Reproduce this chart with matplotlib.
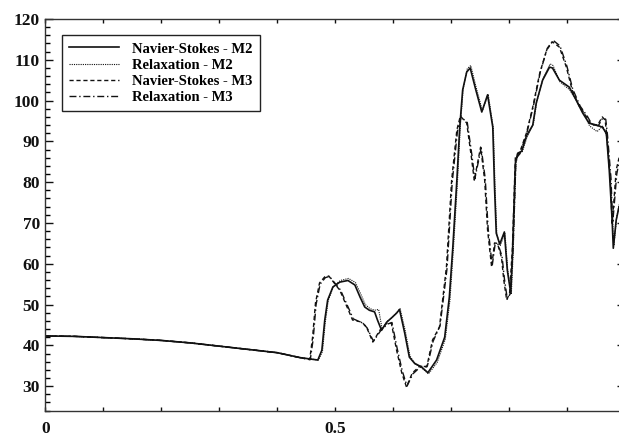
import matplotlib
matplotlib.use("Agg")
import matplotlib.pyplot as plt
from matplotlib.ticker import MultipleLocator, FuncFormatter

# Navier-Stokes, mesh M2 (solid)
ns_m2_x = [0.0, 0.05, 0.1, 0.15, 0.2, 0.25, 0.3, 0.35, 0.4, 0.439, 0.470, 0.477, 0.482, 0.487,
           0.496, 0.508, 0.522, 0.534, 0.543, 0.551, 0.559, 0.568, 0.573, 0.580, 0.589, 0.597,
           0.606, 0.611, 0.620, 0.628, 0.637, 0.649, 0.660, 0.675, 0.689, 0.697, 0.703, 0.710,
           0.715, 0.720, 0.727, 0.733, 0.742, 0.753, 0.763, 0.772, 0.775, 0.778, 0.784, 0.792,
           0.797, 0.803, 0.806, 0.811, 0.815, 0.822, 0.830, 0.841, 0.847, 0.858, 0.870, 0.875,
           0.887, 0.904, 0.916, 0.927, 0.938, 0.951, 0.961, 0.968, 0.973, 0.978, 0.980, 0.985,
           0.990]
ns_m2_y = [42.3, 42.2, 41.9, 41.6, 41.2, 40.6, 39.8, 39.0, 38.2, 37.0, 36.4, 38.8, 46.2, 51.1,
           54.3, 55.5, 55.9, 54.8, 51.8, 49.4, 48.6, 48.2, 46.2, 43.7, 45.7, 46.7,
           47.9, 48.8, 43.0, 37.1, 35.6, 34.7, 33.3, 36.4, 42.0, 51.8, 64.0, 80.5,
           93.5, 102.6, 107.0, 108.0, 103.0, 97.2, 101.4, 93.5, 78.8, 67.5, 64.8, 67.8,
           58.5, 52.8, 62.6, 84.7, 87.1, 87.6, 91.3, 94.0, 99.4, 105.0, 108.2, 108.0,
           105.0, 103.3, 100.1, 97.0, 94.5, 94.0, 93.5, 92.0, 83.0, 70.7, 63.8, 70.7,
           74.0]

# Relaxation, mesh M2 (dotted)
rx_m2_x = [0.0, 0.05, 0.1, 0.15, 0.2, 0.25, 0.3, 0.35, 0.4, 0.439, 0.471, 0.478, 0.483, 0.488,
           0.497, 0.509, 0.523, 0.535, 0.544, 0.552, 0.560, 0.568, 0.575, 0.581, 0.590, 0.598,
           0.606, 0.612, 0.621, 0.629, 0.638, 0.650, 0.661, 0.676, 0.690, 0.698, 0.704, 0.711,
           0.716, 0.721, 0.728, 0.734, 0.743, 0.754, 0.764, 0.773, 0.776, 0.779, 0.785, 0.793,
           0.798, 0.804, 0.807, 0.812, 0.816, 0.823, 0.831, 0.842, 0.848, 0.859, 0.871, 0.876,
           0.888, 0.905, 0.917, 0.928, 0.939, 0.952, 0.962, 0.969, 0.974, 0.979, 0.981, 0.986,
           0.990]
rx_m2_y = [42.3, 42.2, 41.9, 41.6, 41.2, 40.6, 39.8, 39.0, 38.2, 37.0, 36.4, 38.5, 45.8, 51.0,
           54.5, 55.9, 56.4, 55.4, 52.6, 50.0, 49.0, 48.6, 48.8, 44.0, 45.9, 46.8,
           48.0, 49.0, 43.5, 37.4, 35.4, 34.4, 33.0, 35.8, 41.5, 51.0, 63.5, 80.0,
           93.8, 103.0, 107.8, 108.6, 103.4, 97.5, 101.6, 93.2, 78.5, 67.2, 64.5, 67.5,
           58.2, 52.5, 62.0, 84.5, 87.0, 87.5, 91.0, 94.2, 99.8, 105.6, 109.0, 108.6,
           104.6, 102.6, 99.8, 97.4, 93.8, 92.4, 93.8, 91.0, 82.0, 70.0, 64.5, 71.5,
           74.5]

# Navier-Stokes, mesh M3 (dashed)
ns_m3_x = [0.0, 0.05, 0.1, 0.15, 0.2, 0.25, 0.3, 0.35, 0.4, 0.439, 0.456, 0.461, 0.466, 0.473,
           0.482, 0.489, 0.508, 0.525, 0.530, 0.546, 0.554, 0.565, 0.577, 0.589, 0.597, 0.606,
           0.615, 0.623, 0.633, 0.646, 0.658, 0.668, 0.680, 0.692, 0.701, 0.710, 0.716, 0.727,
           0.735, 0.740, 0.751, 0.758, 0.763, 0.770, 0.775, 0.780, 0.787, 0.791, 0.796, 0.801,
           0.806, 0.811, 0.818, 0.830, 0.841, 0.853, 0.865, 0.875, 0.887, 0.899, 0.909, 0.922,
           0.934, 0.942, 0.953, 0.961, 0.966, 0.969, 0.975, 0.978, 0.985, 0.990]
ns_m3_y = [42.3, 42.2, 41.9, 41.6, 41.2, 40.6, 39.8, 39.0, 38.2, 37.0, 36.5, 42.0, 50.4, 55.3,
           56.8, 57.0, 53.5, 47.9, 46.2, 45.7, 44.5, 40.8, 43.7, 45.4, 45.4, 38.8,
           33.2, 29.8, 33.2, 34.9, 34.7, 41.3, 44.5, 59.2, 80.5, 92.8, 96.2, 94.5,
           86.2, 80.5, 88.6, 80.5, 68.3, 59.2, 65.1, 65.0, 61.6, 56.0, 51.1, 52.8,
           64.1, 86.2, 87.1, 92.0, 98.4, 106.7, 112.4, 114.4, 113.1, 108.2, 102.6, 98.4,
           96.0, 94.0, 94.0, 96.0, 95.2, 91.1, 80.5, 69.5, 83.0, 86.0]

# Relaxation, mesh M3 (dash-dot)
rx_m3_x = [0.0, 0.05, 0.1, 0.15, 0.2, 0.25, 0.3, 0.35, 0.4, 0.439, 0.457, 0.462, 0.467, 0.474,
           0.483, 0.490, 0.509, 0.526, 0.531, 0.547, 0.555, 0.566, 0.578, 0.590, 0.598, 0.607,
           0.616, 0.624, 0.634, 0.647, 0.659, 0.669, 0.681, 0.693, 0.702, 0.711, 0.717, 0.728,
           0.736, 0.741, 0.752, 0.759, 0.764, 0.771, 0.776, 0.781, 0.788, 0.792, 0.797, 0.802,
           0.807, 0.812, 0.819, 0.831, 0.842, 0.854, 0.866, 0.876, 0.888, 0.900, 0.910, 0.923,
           0.935, 0.943, 0.954, 0.962, 0.967, 0.970, 0.976, 0.979, 0.986, 0.990]
rx_m3_y = [42.3, 42.2, 41.9, 41.6, 41.2, 40.6, 39.8, 39.0, 38.2, 37.0, 36.5, 41.5, 50.0, 55.0,
           56.6, 56.9, 53.6, 48.2, 46.5, 45.5, 44.3, 41.0, 43.5, 45.2, 45.6, 39.2,
           33.6, 30.0, 33.0, 34.7, 34.9, 41.0, 44.8, 58.8, 80.0, 92.5, 96.0, 94.6,
           86.6, 80.8, 88.4, 80.8, 68.6, 59.5, 64.8, 64.8, 61.8, 56.4, 51.4, 52.6,
           63.8, 85.8, 87.0, 92.2, 98.6, 107.0, 112.8, 114.8, 113.4, 108.4, 102.8, 98.6,
           96.2, 94.2, 93.8, 95.8, 95.4, 91.5, 81.0, 70.0, 82.0, 85.0]

legend_labels = ["Navier-Stokes - M2", "Relaxation - M2",
                 "Navier-Stokes - M3", "Relaxation - M3"]

plt.rcParams["font.family"] = ["Liberation Serif", "DejaVu Serif"]
plt.rcParams["font.weight"] = "bold"

fig = plt.figure(figsize=(6.19, 4.38), dpi=100)
ax = fig.add_axes([0.0735, 0.0616, 0.936, 0.895])

ink = "#111111"
ax.plot(ns_m2_x, ns_m2_y, color=ink, lw=1.2, ls="-", label=legend_labels[0])
ax.plot(rx_m2_x, rx_m2_y, color=ink, lw=0.8, ls=(0, (1, 1)), label=legend_labels[1])
ax.plot(ns_m3_x, ns_m3_y, color=ink, lw=1.0, ls=(0, (3, 2)), label=legend_labels[2])
ax.plot(rx_m3_x, rx_m3_y, color=ink, lw=1.0, ls=(0, (5, 2, 1, 2)), label=legend_labels[3])

ax.set_xlim(0, 1.0)
ax.set_ylim(23.9, 120)

ax.xaxis.set_major_locator(MultipleLocator(0.1))
ax.xaxis.set_major_formatter(FuncFormatter(
    lambda v, p: ("0" if abs(v) < 1e-9 else ("0.5" if abs(v - 0.5) < 1e-9 else ""))))
ax.yaxis.set_major_locator(MultipleLocator(10))
ax.yaxis.set_minor_locator(MultipleLocator(2))

ax.tick_params(axis="x", which="major", direction="in", length=3, width=1.0,
               top=True, bottom=True, labelsize=12.5, pad=7, colors=ink)
ax.tick_params(axis="y", which="major", direction="in", length=6, width=1.0,
               left=True, right=True, labelsize=12.5, pad=4, colors=ink)
ax.tick_params(axis="y", which="minor", direction="in", length=3.5, width=1.0,
               left=True, right=False)
for lab in ax.get_xticklabels() + ax.get_yticklabels():
    lab.set_fontweight("bold")

for sp in ax.spines.values():
    sp.set_linewidth(1.0)
    sp.set_color("#333333")

leg = ax.legend(loc="upper left", bbox_to_anchor=(0.028, 0.959), borderaxespad=0,
                frameon=True, fancybox=False, edgecolor="#222222", framealpha=1,
                prop={"family": "Liberation Serif", "weight": "bold", "size": 10.5},
                handlelength=3.4, handletextpad=0.9, labelspacing=0.2,
                borderpad=0.5)
leg.get_frame().set_linewidth(1.0)

fig.savefig("out.png", dpi=100)
